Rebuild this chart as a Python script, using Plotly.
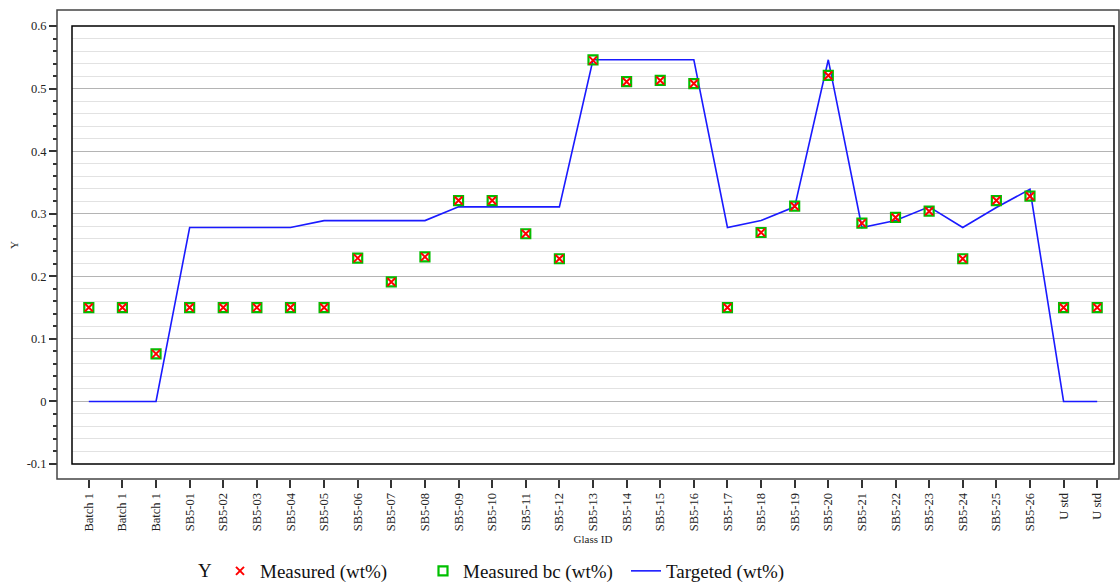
import plotly.graph_objects as go

# Glass sample identifiers along the x axis (duplicates are real repeats)
glass_ids = ["Batch 1", "Batch 1", "Batch 1",
             "SB5-01", "SB5-02", "SB5-03", "SB5-04", "SB5-05", "SB5-06", "SB5-07",
             "SB5-08", "SB5-09", "SB5-10", "SB5-11", "SB5-12", "SB5-13", "SB5-14",
             "SB5-15", "SB5-16", "SB5-17", "SB5-18", "SB5-19", "SB5-20", "SB5-21",
             "SB5-22", "SB5-23", "SB5-24", "SB5-25", "SB5-26", "U std", "U std"]

measured = [0.150, 0.150, 0.076,
            0.150, 0.150, 0.150, 0.150, 0.150, 0.229, 0.191,
            0.231, 0.321, 0.321, 0.268, 0.228, 0.545, 0.511,
            0.513, 0.508, 0.150, 0.270, 0.312, 0.521, 0.285,
            0.294, 0.304, 0.228, 0.321, 0.328, 0.150, 0.150]

measured_bc = [0.150, 0.150, 0.076,
               0.150, 0.150, 0.150, 0.150, 0.150, 0.229, 0.191,
               0.231, 0.321, 0.321, 0.268, 0.228, 0.546, 0.511,
               0.513, 0.508, 0.150, 0.270, 0.312, 0.521, 0.285,
               0.294, 0.304, 0.228, 0.321, 0.328, 0.150, 0.150]

targeted = [0.0, 0.0, 0.0,
            0.278, 0.278, 0.278, 0.278, 0.289, 0.289, 0.289,
            0.289, 0.311, 0.311, 0.311, 0.311, 0.546, 0.546,
            0.546, 0.546, 0.278, 0.289, 0.311, 0.546, 0.278,
            0.289, 0.311, 0.278, 0.310, 0.339, 0.0, 0.0]

y_ticks = [-0.1, 0.0, 0.1, 0.2, 0.3, 0.4, 0.5, 0.6]
y_ticklabels = ["-0.1", "0", "0.1", "0.2", "0.3", "0.4", "0.5", "0.6"]

positions = list(range(len(glass_ids)))
serif = "Liberation Serif, Times New Roman, serif"

fig = go.Figure()

fig.add_trace(go.Scatter(
    x=positions, y=targeted, mode="lines", name="Targeted (wt%)",
    line=dict(color="#1a1aff", width=1.6), legendrank=3,
))
fig.add_trace(go.Scatter(
    x=positions, y=measured_bc, mode="markers", name="Measured bc (wt%)",
    marker=dict(symbol="square-open", size=9, color="#00c000",
                line=dict(width=2.2, color="#00c000")),
    legendrank=2,
))
fig.add_trace(go.Scatter(
    x=positions, y=measured, mode="markers", name="Measured (wt%)",
    marker=dict(symbol="x-thin", size=8, color="#ff0000",
                line=dict(width=2, color="#ff0000")),
    legendrank=1,
))

W, H = 1120, 582
ml, mr, mt, mb = 57, 1, 10, 103
pw = W - ml - mr
ph = H - mt - mb

fig.update_layout(
    width=W, height=H,
    margin=dict(l=ml, r=mr, t=mt, b=mb, autoexpand=False),
    paper_bgcolor="white", plot_bgcolor="white",
    font=dict(family=serif, color="#222222", size=12),
    showlegend=True,
    legend=dict(
        orientation="h", x=(196 - ml) / pw, xanchor="left",
        y=(H - mb - 571) / ph, yanchor="middle",
        title=dict(text="Y", font=dict(family=serif, size=19, color="#111")),
        font=dict(family=serif, size=19, color="#111"),
        entrywidth=158, entrywidthmode="pixels",
        bgcolor="rgba(0,0,0,0)",
    ),
    xaxis=dict(
        range=[-0.5, len(glass_ids) - 0.5],
        domain=[15 / pw, (1114 - ml) / pw],
        anchor="free", position=0,
        tickmode="array", tickvals=positions, ticktext=glass_ids,
        tickangle=-90, ticks="outside", ticklen=8, tickwidth=1.5,
        tickcolor="#333333", showline=False, showgrid=False, zeroline=False,
        tickfont=dict(family=serif, size=12.5, color="#222"),
        title=dict(text="Glass ID", font=dict(family=serif, size=11, color="#222"),
                   standoff=4),
    ),
    yaxis=dict(
        range=[-0.1, 0.6],
        domain=[(479 - 464) / ph, (479 - 26) / ph],
        anchor="free", position=0,
        tickmode="array", tickvals=y_ticks, ticktext=y_ticklabels,
        ticks="outside", ticklen=8, tickwidth=1.5, tickcolor="#333333",
        showline=False, zeroline=False,
        showgrid=True, gridcolor="#b4b4b4", gridwidth=1,
        tickfont=dict(family=serif, size=12.5, color="#222"),
        minor=dict(dtick=0.02, tick0=0, ticks="outside", ticklen=4,
                   tickwidth=1.5, tickcolor="#333333",
                   showgrid=True, gridcolor="#e2e2e2", gridwidth=1),
        title=dict(text="Y", font=dict(family=serif, size=11, color="#222"),
                   standoff=4),
    ),
    shapes=[
        # outer frame carrying the axes
        dict(type="rect", xref="paper", yref="paper", x0=0, x1=1, y0=0, y1=1,
             line=dict(color="#444444", width=1.5), layer="above"),
        # inner plotting box
        dict(type="rect", xref="x domain", yref="y domain", x0=0, x1=1, y0=0, y1=1,
             line=dict(color="#000000", width=1.5), layer="above"),
    ],
)

fig.write_html("out.html")
